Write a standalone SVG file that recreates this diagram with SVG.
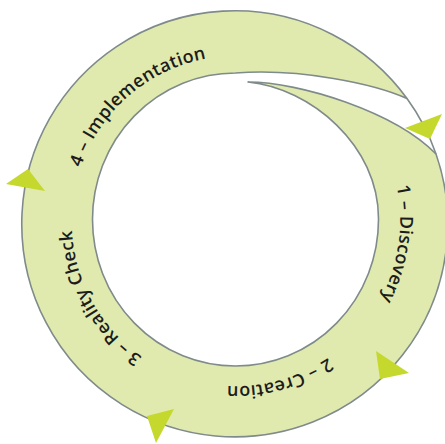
<svg xmlns="http://www.w3.org/2000/svg" xmlns:xlink="http://www.w3.org/1999/xlink" width="445" height="444" viewBox="0 0 445 444">
<style>
.band{fill:#e1eaae;stroke:#7f8a8b;stroke-width:1.6;stroke-linejoin:round}
.edge{fill:none;stroke:#7f8a8b;stroke-width:1.6}
.head{fill:#c4d82d}
.lbl{font-family:"Open Sans","Noto Sans",sans-serif;font-weight:600;font-size:18px;letter-spacing:0.3px;fill:#1c1c1c}
</style>
<defs>
<path id="tp" d="M 74.5,192.5 A 164 164 0 1 1 397.5,249.5 A 164 164 0 1 1 74.5,192.5"/>
</defs>
<g id="cycle">
<path class="band" d="M 248,82 C 300,82 395,112 436,154 A 213 213 0 1 1 407,98.5 C 375,84 300,68 235.5,73 A 143 146.5 0 0 0 92.5,219.5 A 143 146.5 0 0 0 235.5,366 A 143 146.5 0 0 0 378.5,219.5 C 379,145 310,88 248,82 Z"/>
<path class="edge" d="M 407,98.5 A 213 213 0 0 1 436,154"/>
</g>
<g id="connectors">
<polygon class="head" points="405,128 442,114 430,139"/>
<polygon class="head" points="376,351 409,373 380,379"/>
<polygon class="head" points="147,416 174,409 156,443"/>
<polygon class="head" points="6,184 28,169 45,191"/>
</g>
<g id="phase4"><text class="lbl" text-anchor="middle"><textPath xlink:href="#tp" href="#tp" startOffset="113">4 – Implementation</textPath></text></g>
<g id="phase1"><text class="lbl" text-anchor="middle"><textPath xlink:href="#tp" href="#tp" startOffset="512">1 – Discovery</textPath></text></g>
<g id="phase2"><text class="lbl" text-anchor="middle"><textPath xlink:href="#tp" href="#tp" startOffset="703">2 – Creation</textPath></text></g>
<g id="phase3"><text class="lbl" text-anchor="middle"><textPath xlink:href="#tp" href="#tp" startOffset="922">3 – Reality Check</textPath></text></g>
</svg>
